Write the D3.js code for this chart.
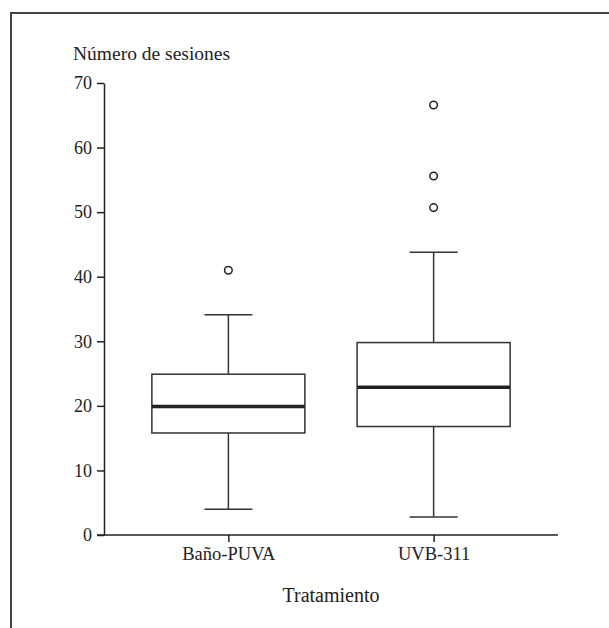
<!DOCTYPE html>
<html lang="es">
<head>
<meta charset="UTF-8"/>
<title>Número de sesiones por tratamiento</title>
<script src="https://d3js.org/d3.v7.min.js"></script>
<style>
  body { margin: 0; background: #fff; }
  text { font-family: "Liberation Serif", "DejaVu Serif", serif; fill: #222; }
  .axis path, .axis line { stroke: #222; stroke-width: 1.5; }
  .box { fill: none; stroke: #333; stroke-width: 1.5; }
  .median { stroke: #222; stroke-width: 3.5; }
  .whisker { stroke: #333; stroke-width: 1.5; }
  .outlier { fill: #fff; stroke: #222; stroke-width: 1.5; }
</style>
</head>
<body>
<div id="chart"></div>
<script>
// data
var treatments = ["Baño-PUVA", "UVB-311"];
var lowWhisker  = [4, 2.8];
var q1          = [15.8, 16.8];
var medians     = [19.9, 22.9];
var q3          = [24.9, 29.8];
var highWhisker = [34.1, 43.8];
var outliers    = [[41], [50.7, 55.6, 66.6]];
var yTicks = [0, 10, 20, 30, 40, 50, 60, 70];

var w = 609, h = 628;

var svg = d3.select("#chart")
    .append("svg")
    .attr("width", w)
    .attr("height", h);

// frame around the figure
svg.append("rect")
    .attr("x", 11).attr("y", 13)
    .attr("width", 620).attr("height", 640)
    .attr("fill", "none")
    .attr("stroke", "#444")
    .attr("stroke-width", 2);

var xScale = d3.scalePoint()
    .domain(treatments)
    .range([104, 558])
    .padding(0.606);

var yScale = d3.scaleLinear()
    .domain([0, 70])
    .range([535, 83]);

var boxW = 153, capW = 48;

var yAxis = d3.axisLeft(yScale)
    .tickValues(yTicks)
    .tickSize(7)
    .tickSizeOuter(0)
    .tickPadding(5);

var gy = svg.append("g")
    .attr("class", "axis")
    .attr("transform", "translate(104,0)")
    .call(yAxis);
gy.selectAll("text").style("font-size", "18px");

var xAxis = d3.axisBottom(xScale)
    .tickSize(7)
    .tickSizeOuter(0)
    .tickPadding(5);

var gx = svg.append("g")
    .attr("class", "axis")
    .attr("transform", "translate(0,535)")
    .call(xAxis);
gx.selectAll("text").style("font-size", "18.5px");

// extend x axis line left to join the 0 tick
gx.select("path.domain").attr("d", "M97,0H558");

var groups = svg.selectAll(".grp")
    .data(treatments)
    .enter().append("g")
    .attr("class", "grp");

// whiskers
groups.append("line").attr("class", "whisker")
    .attr("x1", function(d){ return xScale(d); })
    .attr("x2", function(d){ return xScale(d); })
    .attr("y1", function(d, i){ return yScale(q3[i]); })
    .attr("y2", function(d, i){ return yScale(highWhisker[i]); });
groups.append("line").attr("class", "whisker")
    .attr("x1", function(d){ return xScale(d); })
    .attr("x2", function(d){ return xScale(d); })
    .attr("y1", function(d, i){ return yScale(q1[i]); })
    .attr("y2", function(d, i){ return yScale(lowWhisker[i]); });
groups.append("line").attr("class", "whisker")
    .attr("x1", function(d){ return xScale(d) - capW / 2; })
    .attr("x2", function(d){ return xScale(d) + capW / 2; })
    .attr("y1", function(d, i){ return yScale(highWhisker[i]); })
    .attr("y2", function(d, i){ return yScale(highWhisker[i]); });
groups.append("line").attr("class", "whisker")
    .attr("x1", function(d){ return xScale(d) - capW / 2; })
    .attr("x2", function(d){ return xScale(d) + capW / 2; })
    .attr("y1", function(d, i){ return yScale(lowWhisker[i]); })
    .attr("y2", function(d, i){ return yScale(lowWhisker[i]); });

// boxes
groups.append("rect").attr("class", "box")
    .attr("x", function(d){ return xScale(d) - boxW / 2; })
    .attr("width", boxW)
    .attr("y", function(d, i){ return yScale(q3[i]); })
    .attr("height", function(d, i){ return yScale(q1[i]) - yScale(q3[i]); });

groups.append("line").attr("class", "median")
    .attr("x1", function(d){ return xScale(d) - boxW / 2; })
    .attr("x2", function(d){ return xScale(d) + boxW / 2; })
    .attr("y1", function(d, i){ return yScale(medians[i]); })
    .attr("y2", function(d, i){ return yScale(medians[i]); });

// outliers
groups.each(function(d, i){
    d3.select(this).selectAll(".outlier")
        .data(outliers[i])
        .enter().append("circle")
        .attr("class", "outlier")
        .attr("cx", xScale(d))
        .attr("cy", function(v){ return yScale(v); })
        .attr("r", 3.8);
});

// titles
svg.append("text")
    .attr("x", 73).attr("y", 60)
    .style("font-size", "19.5px")
    .text("Número de sesiones");

svg.append("text")
    .attr("x", 331).attr("y", 602)
    .attr("text-anchor", "middle")
    .style("font-size", "20px")
    .text("Tratamiento");
</script>
</body>
</html>
